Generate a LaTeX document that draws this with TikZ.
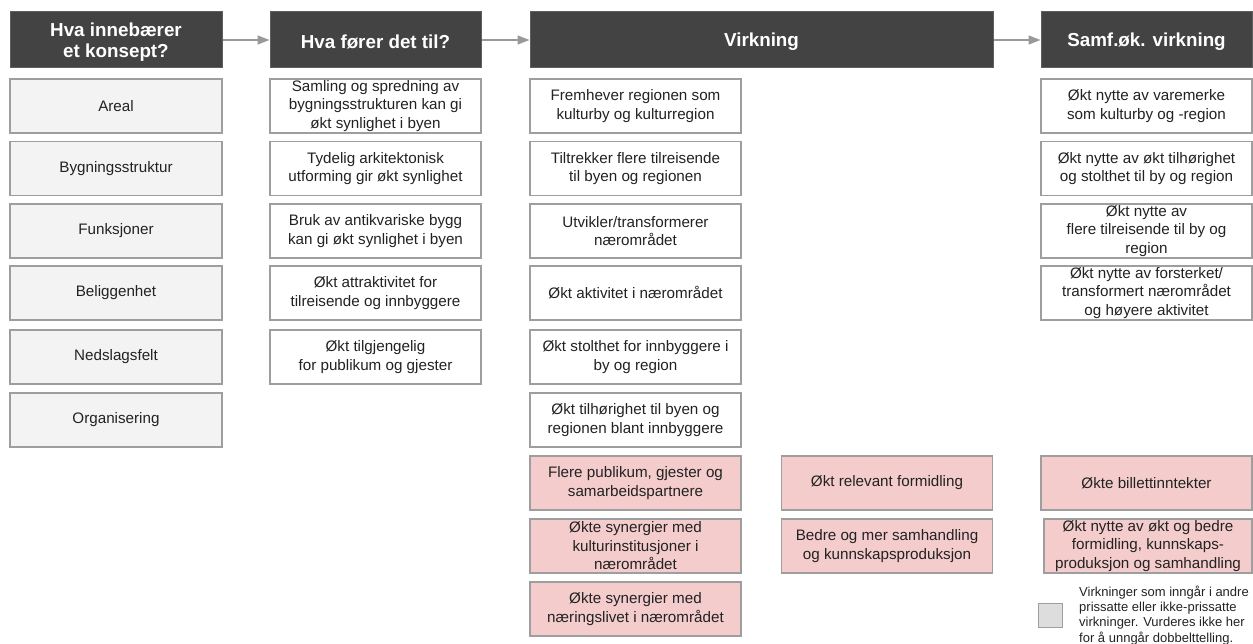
\documentclass[tikz,border=0pt]{standalone}
\usepackage{fontspec}
\setmainfont{Liberation Sans}
\usetikzlibrary{arrows.meta}
\definecolor{hdr}{HTML}{434343}
\definecolor{hdrb}{HTML}{5F5F5F}
\definecolor{bord}{HTML}{9E9E9E}
\definecolor{lgray}{HTML}{F3F3F3}
\definecolor{pinkf}{HTML}{F4CCCC}
\definecolor{arr}{HTML}{999999}
\definecolor{legf}{HTML}{DDDDDD}
\definecolor{txt}{HTML}{222222}
\begin{document}
\begin{tikzpicture}[x=1pt,y=-1pt,
  box/.style={draw=bord, line width=1.4pt, minimum width=211pt, minimum height=54pt,
    inner sep=0pt, align=center, font=\fontsize{15.2}{18.5}\selectfont, text=txt},
  graybox/.style={box, fill=lgray},
  whitebox/.style={box, fill=white},
  pinkbox/.style={box, fill=pinkf},
  hdrbox/.style={draw=hdrb, line width=1pt, fill=hdr, minimum height=56pt, inner sep=0pt},
  hdrtext/.style={inner sep=0pt, align=center, text=white, font=\fontsize{18.8}{20.5}\selectfont\bfseries},
  flow/.style={draw=arr, line width=1.4pt, -{Triangle[length=12pt,width=9pt]}},
  legbox/.style={draw=bord, line width=1.4pt, fill=legf, minimum width=24pt, minimum height=24pt, inner sep=0pt},
  legtext/.style={anchor=north west, inner sep=0pt, align=left, text=txt, font=\fontsize{13}{15.3}\selectfont}
]
\useasboundingbox (0,0) rectangle (1253,644);
\clip (0,0) rectangle (1253,644);
% headers
\node[hdrbox, minimum width=212pt] (h1) at (116,40) {};
\node[hdrbox, minimum width=211pt] (h2) at (375.5,40) {};
\node[hdrbox, minimum width=463pt] (h3) at (761.5,40) {};
\node[hdrbox, minimum width=211pt] (h4) at (1146.5,40) {};
\node[hdrtext] (t1) at ([yshift=-2pt]h1.center) {Hva innebærer\\et konsept?};
\node[hdrtext] (t2) at ([yshift=-1.5pt]h2.center) {Hva fører det til?};
\node[hdrtext] (t3) at ([yshift=-1.5pt]h3.center) {Virkning};
\node[hdrtext] (t4) at ([yshift=-1.5pt]h4.center) {Samf.øk. virkning};
\draw[flow] (h1.east) -- (h2.west);
\draw[flow] (h2.east) -- (h3.west);
\draw[flow] (h3.east) -- (h4.west);
% column 1
\node[graybox, minimum width=212pt] (a1) at (116,106) {Areal};
\node[graybox, minimum width=212pt] (a2) at (116,168.5) {Bygningsstruktur};
\node[graybox, minimum width=212pt] (a3) at (116,231) {Funksjoner};
\node[graybox, minimum width=212pt] (a4) at (116,293) {Beliggenhet};
\node[graybox, minimum width=212pt] (a5) at (116,357) {Nedslagsfelt};
\node[graybox, minimum width=212pt] (a6) at (116,420) {Organisering};
% column 2
\node[whitebox] (b1) at (375.5,106) {Samling og spredning av\\bygningsstrukturen kan gi\\økt synlighet i byen};
\node[whitebox] (b2) at (375.5,168.5) {Tydelig arkitektonisk\\utforming gir økt synlighet};
\node[whitebox] (b3) at (375.5,231) {Bruk av antikvariske bygg\\kan gi økt synlighet i byen};
\node[whitebox] (b4) at (375.5,293) {Økt attraktivitet for\\tilreisende og innbyggere};
\node[whitebox] (b5) at (375.5,357) {Økt tilgjengelig\\for publikum og gjester};
% column 3
\node[whitebox] (c1) at (635.5,106) {Fremhever regionen som\\kulturby og kulturregion};
\node[whitebox] (c2) at (635.5,168.5) {Tiltrekker flere tilreisende\\til byen og regionen};
\node[whitebox] (c3) at (635.5,231) {Utvikler/transformerer\\nærområdet};
\node[whitebox] (c4) at (635.5,293) {Økt aktivitet i nærområdet};
\node[whitebox] (c5) at (635.5,357) {Økt stolthet for innbyggere i\\by og region};
\node[whitebox] (c6) at (635.5,420) {Økt tilhørighet til byen og\\regionen blant innbyggere};
\node[pinkbox] (c7) at (635.5,483) {Flere publikum, gjester og\\samarbeidspartnere};
\node[pinkbox] (c8) at (635.5,546) {Økte synergier med\\kulturinstitusjoner i\\nærområdet};
\node[pinkbox] (c9) at (635.5,609) {Økte synergier med\\næringslivet i nærområdet};
% column 3b
\node[pinkbox] (d1) at (887,483) {Økt relevant formidling};
\node[pinkbox] (d2) at (887,546) {Bedre og mer samhandling\\og kunnskapsproduksjon};
% column 4
\node[whitebox] (e1) at (1146.5,106) {Økt nytte av varemerke\\som kulturby og -region};
\node[whitebox] (e2) at (1146.5,168.5) {Økt nytte av økt tilhørighet\\og stolthet til by og region};
\node[whitebox] (e3) at (1146.5,231) {Økt nytte av\\flere tilreisende til by og\\region};
\node[whitebox] (e4) at (1146.5,293) {Økt nytte av forsterket/\\transformert nærområdet\\og høyere aktivitet};
\node[pinkbox] (e5) at (1146.5,483) {Økte billettinntekter};
\node[pinkbox, minimum width=208pt] (e6) at (1148,546) {Økt nytte av økt og bedre\\formidling, kunnskaps-\\produksjon og samhandling};
% legend
\node[legbox] (lg) at (1050.5,615.5) {};
\node[legtext] (lgt) at (1079,585.5) {Virkninger som inngår i andre\\prissatte eller ikke-prissatte\\virkninger. Vurderes ikke her\\for å unngår dobbelttelling.};
\end{tikzpicture}
\end{document}
